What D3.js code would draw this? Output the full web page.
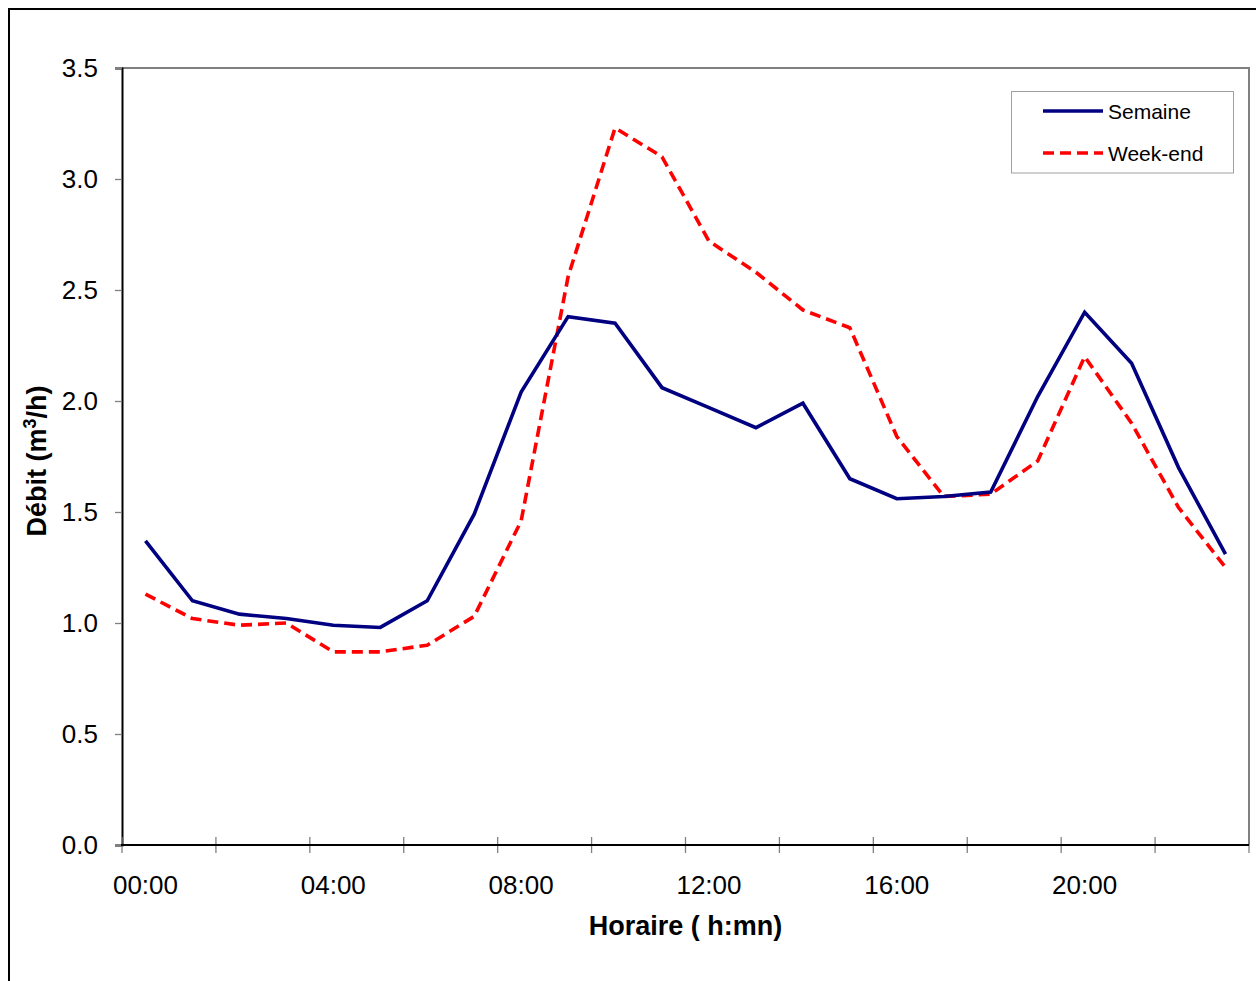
<!DOCTYPE html>
<html>
<head>
<meta charset="utf-8">
<script src="https://cdn.jsdelivr.net/npm/d3@7"></script>
<style>
  html, body { margin: 0; padding: 0; background: #fff; }
  svg { display: block; font-family: Arial, "Liberation Sans", sans-serif; }
</style>
</head>
<body>
<svg id="chart" width="1256" height="981"></svg>
<script>
// Hourly flow (m³/h) for weekdays and weekends
const hours = ["00:00","01:00","02:00","03:00","04:00","05:00","06:00","07:00",
               "08:00","09:00","10:00","11:00","12:00","13:00","14:00","15:00",
               "16:00","17:00","18:00","19:00","20:00","21:00","22:00","23:00"];
const semaine = [1.37, 1.10, 1.04, 1.02, 0.99, 0.98, 1.10, 1.49,
                 2.04, 2.38, 2.35, 2.06, 1.97, 1.88, 1.99, 1.65,
                 1.56, 1.57, 1.59, 2.02, 2.40, 2.17, 1.70, 1.31];
const weekend = [1.13, 1.02, 0.99, 1.00, 0.87, 0.87, 0.90, 1.03,
                 1.46, 2.56, 3.23, 3.10, 2.72, 2.58, 2.41, 2.33,
                 1.84, 1.57, 1.58, 1.73, 2.20, 1.90, 1.52, 1.25];
const yTicks = [0, 0.5, 1.0, 1.5, 2.0, 2.5, 3.0, 3.5];
const labelHours = ["00:00","04:00","08:00","12:00","16:00","20:00"];

const svg = d3.select("#chart");
const plot = { left: 122, right: 1249, top: 68, bottom: 845 };

const x = d3.scaleBand().domain(hours).range([plot.left, plot.right]).padding(0);
const cx = h => x(h) + x.bandwidth() / 2;
const y = d3.scaleLinear().domain([0, 3.5]).range([plot.bottom, plot.top]);

// Outer frame
svg.append("path")
  .attr("d", `M9,981 L9,9 L1262,9`)
  .attr("fill", "none").attr("stroke", "#000").attr("stroke-width", 2);

// Plot frame: top and right in grey
svg.append("path")
  .attr("d", `M${plot.left},${plot.top} L${plot.right},${plot.top} L${plot.right},${plot.bottom}`)
  .attr("fill", "none").attr("stroke", "#808080").attr("stroke-width", 2);

// Y axis
const yAxis = svg.append("g").attr("transform", `translate(${plot.left},0)`)
  .call(d3.axisLeft(y).tickValues(yTicks).tickFormat(d3.format(".1f")).tickSize(7).tickPadding(17));
yAxis.select(".domain").attr("stroke", "#000").attr("stroke-width", 2);
yAxis.selectAll(".tick line").attr("stroke", "#808080").attr("stroke-width", 1.3);
yAxis.selectAll(".tick text").attr("font-size", 26).attr("fill", "#000")
  .attr("font-family", "Arial, 'Liberation Sans', sans-serif");

// X axis: tick marks every two hours on band boundaries
const tickHours = hours.filter((h, i) => i % 2 === 0);
const xTickG = svg.append("g");
xTickG.selectAll("line").data(tickHours.concat(["end"])).join("line")
  .attr("x1", d => d === "end" ? plot.right : x(d))
  .attr("x2", d => d === "end" ? plot.right : x(d))
  .attr("y1", plot.bottom - 8).attr("y2", plot.bottom + 8)
  .attr("stroke", "#808080").attr("stroke-width", 1.3);
svg.append("line")
  .attr("x1", plot.left - 1).attr("x2", plot.right)
  .attr("y1", plot.bottom).attr("y2", plot.bottom)
  .attr("stroke", "#000").attr("stroke-width", 2);

svg.append("g").selectAll("text").data(labelHours).join("text")
  .attr("x", d => cx(d)).attr("y", 894)
  .attr("text-anchor", "middle").attr("font-size", 26).attr("fill", "#000")
  .text(d => d);

// Axis titles
svg.append("text")
  .attr("x", (plot.left + plot.right) / 2).attr("y", 935)
  .attr("text-anchor", "middle").attr("font-size", 27).attr("font-weight", "bold")
  .text("Horaire ( h:mn)");
svg.append("text")
  .attr("transform", "translate(46,461) rotate(-90)")
  .attr("text-anchor", "middle").attr("font-size", 27).attr("font-weight", "bold")
  .html("Débit (m<tspan baseline-shift='super' font-size='18'>3</tspan>/h)");

// Series lines
const line = d3.line().x((d, i) => cx(hours[i])).y(d => y(d));
svg.append("path").datum(weekend)
  .attr("d", line).attr("fill", "none")
  .attr("stroke", "#FF0000").attr("stroke-width", 3.6)
  .attr("stroke-dasharray", "11,6").attr("stroke-linejoin", "round");
svg.append("path").datum(semaine)
  .attr("d", line).attr("fill", "none")
  .attr("stroke", "#000080").attr("stroke-width", 3.6)
  .attr("stroke-linejoin", "miter");

// Legend
const lg = svg.append("g");
lg.append("rect").attr("x", 1011.5).attr("y", 91.5).attr("width", 222).attr("height", 81.5)
  .attr("fill", "#fff").attr("stroke", "#a0a0a0").attr("stroke-width", 1);
const legendItems = [
  { name: "Semaine", color: "#000080", dash: null, y: 111 },
  { name: "Week-end", color: "#FF0000", dash: "11,6", y: 153 }
];
legendItems.forEach(it => {
  lg.append("line").attr("x1", 1043).attr("x2", 1103).attr("y1", it.y).attr("y2", it.y)
    .attr("stroke", it.color).attr("stroke-width", 3.6)
    .attr("stroke-dasharray", it.dash);
  lg.append("text").attr("x", 1108).attr("y", it.y + 7.5)
    .attr("font-size", 21).attr("fill", "#000").text(it.name);
});
</script>
</body>
</html>
